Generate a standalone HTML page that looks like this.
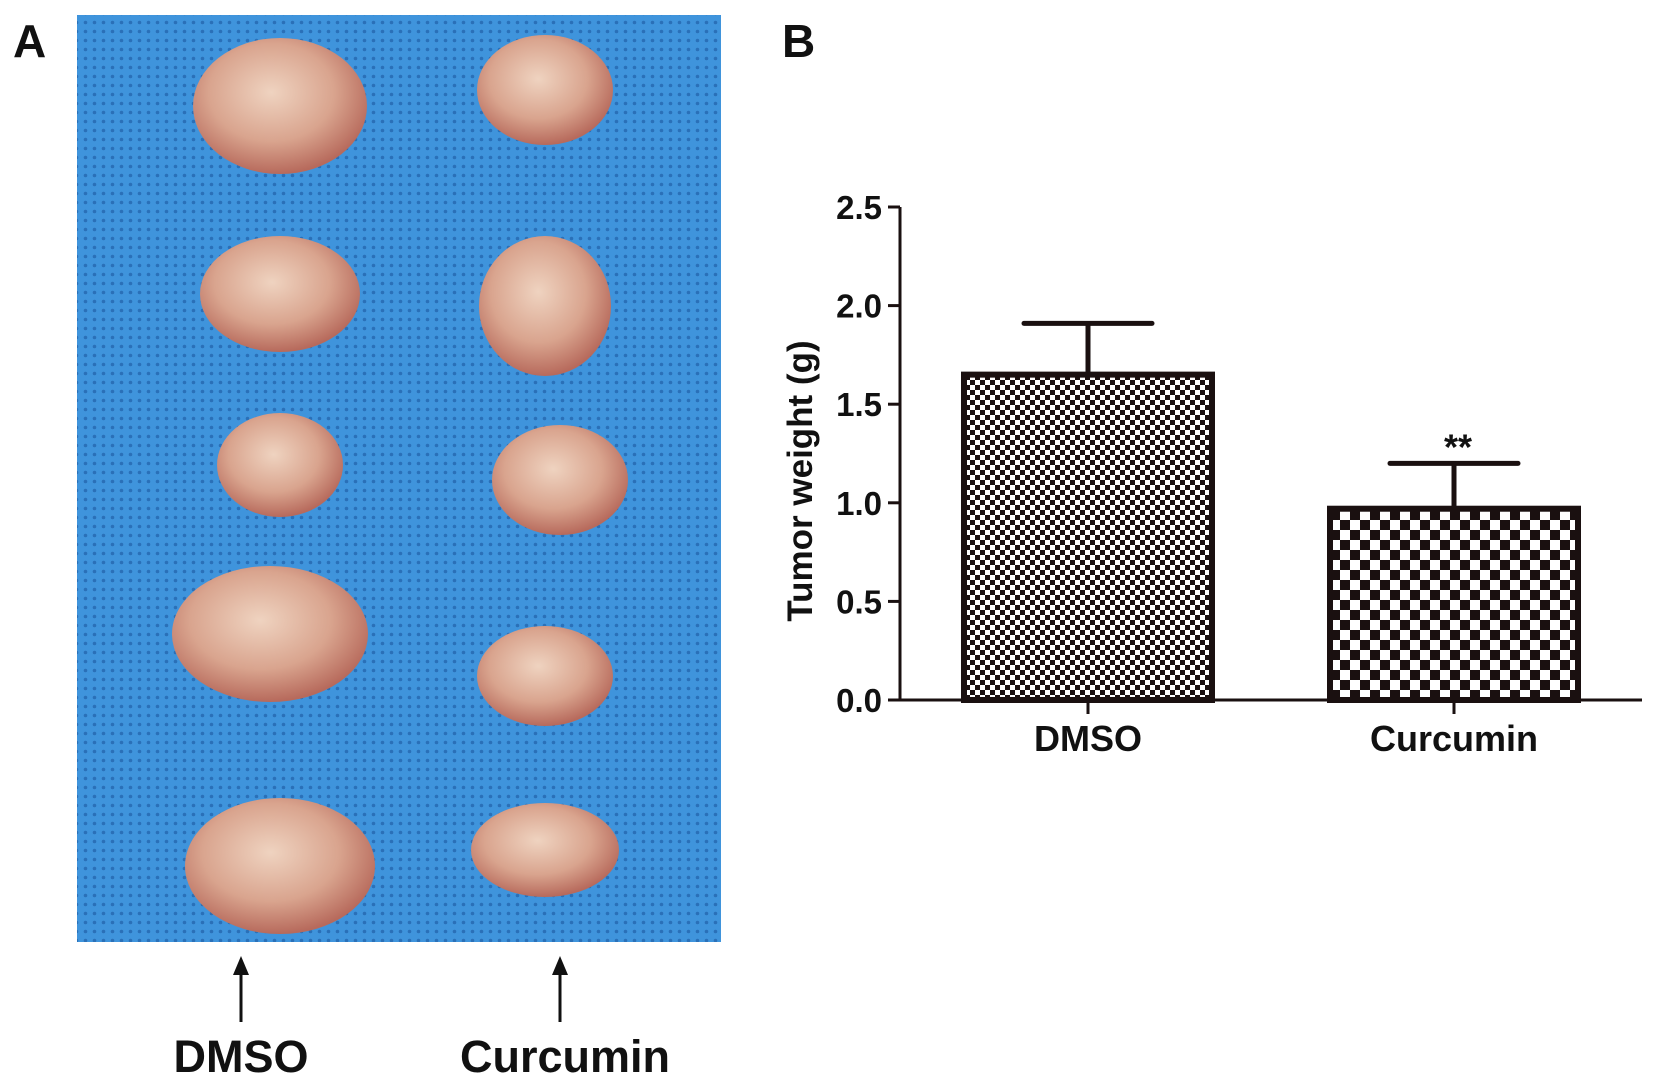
<!DOCTYPE html>
<html><head><meta charset="utf-8"><style>
html,body{margin:0;padding:0;background:#fff;}
body{width:1654px;height:1083px;position:relative;overflow:hidden;font-family:"Liberation Sans",Arial,sans-serif;}
</style></head><body>
<svg width="1654" height="1083" viewBox="0 0 1654 1083" xmlns="http://www.w3.org/2000/svg">
<defs>
<pattern id="fine" width="10" height="10" patternUnits="userSpaceOnUse">
<rect width="10" height="10" fill="#fff"/><rect width="5" height="5" fill="#1a1010"/><rect x="5" y="5" width="5" height="5" fill="#1a1010"/>
</pattern>
<pattern id="coarse" width="20" height="20" patternUnits="userSpaceOnUse">
<rect width="20" height="20" fill="#fff"/><rect width="10" height="10" fill="#1a1010"/><rect x="10" y="10" width="10" height="10" fill="#1a1010"/>
</pattern>
<pattern id="mesh" width="9" height="9" patternUnits="userSpaceOnUse">
<rect width="9" height="9" fill="#3f94dc"/><circle cx="4.5" cy="4.5" r="1.8" fill="#2a70b8"/>
</pattern>
<radialGradient id="tum" cx="45%" cy="40%" r="60%">
<stop offset="0" stop-color="#efd3c0"/><stop offset="0.6" stop-color="#d9a48e"/><stop offset="1" stop-color="#b76a5c"/>
</radialGradient>
</defs>

<!-- Panel A -->
<text x="13" y="57" font-size="46" font-weight="bold" fill="#111">A</text>
<g>
<rect x="77" y="15" width="644" height="927" fill="url(#mesh)"/>
<g id="tumors"></g>
</g>
<g>
<line x1="241" y1="1022" x2="241" y2="972" stroke="#111" stroke-width="3"/>
<polygon points="233,975 249,975 241,956" fill="#111"/>
</g>
<g>
<line x1="560" y1="1022" x2="560" y2="972" stroke="#111" stroke-width="3"/>
<polygon points="552,975 568,975 560,956" fill="#111"/>
</g>
<text x="241" y="1072" font-size="45" font-weight="bold" text-anchor="middle" fill="#111">DMSO</text>
<text x="565" y="1072" font-size="45" font-weight="bold" text-anchor="middle" fill="#111">Curcumin</text>

<!-- Panel B -->
<text x="782" y="57" font-size="46" font-weight="bold" fill="#111">B</text>
<g id="chart"></g>
</svg>
<script>
// photo tumors
const tumorsG = document.getElementById('tumors');
const tumorCx=[280,280,280,270,280,545,545,560,545,545];
const tumorCy=[106,294,465,634,866,90,306,480,676,850];
const tumorRx=[87,80,63,98,95,68,66,68,68,74];
const tumorRy=[68,58,52,68,68,55,70,55,50,47];
for(let i=0;i<tumorCx.length;i++){
  const e=document.createElementNS('http://www.w3.org/2000/svg','ellipse');
  e.setAttribute('cx',tumorCx[i]);e.setAttribute('cy',tumorCy[i]);
  e.setAttribute('rx',tumorRx[i]);e.setAttribute('ry',tumorRy[i]);
  e.setAttribute('fill','url(#tum)');
  
  
  tumorsG.appendChild(e);
}

// chart data
const categories=['DMSO','Curcumin'];
const means=[1.65,0.97];
const errors=[0.26,0.23];
const sigLabels=['','**'];
const yTicks=[0.0,0.5,1.0,1.5,2.0,2.5];
const tickLabels=['0.0','0.5','1.0','1.5','2.0','2.5'];
const fills=['url(#fine)','url(#coarse)'];

const NS='http://www.w3.org/2000/svg';
const g=document.getElementById('chart');
const x0=900,xEnd=1642,yBase=700,yTop=207,yMax=2.5;
const y=v=>yBase-(v/yMax)*(yBase-yTop);
const bandStart=905,bandW=366;
const xc=i=>bandStart+bandW*(i+0.5);
const barW=248,capW=128;
function mk(tag,attrs,parent){const e=document.createElementNS(NS,tag);for(const k in attrs)e.setAttribute(k,attrs[k]);(parent||g).appendChild(e);return e;}

// bars
categories.forEach((c,i)=>{
  const cx=xc(i);
  const eb=mk('g',{});
  
  
  mk('line',{x1:cx,y1:y(means[i]),x2:cx,y2:y(means[i]+errors[i]),stroke:'#1a1010','stroke-width':5},eb);
  mk('line',{x1:cx-capW/2,y1:y(means[i]+errors[i]),x2:cx+capW/2,y2:y(means[i]+errors[i]),stroke:'#1a1010','stroke-width':5,'stroke-linecap':'round'},eb);
  const r=mk('rect',{x:cx-barW/2,y:y(means[i]),width:barW,height:yBase-y(means[i]),fill:fills[i],stroke:'#1a1010','stroke-width':6});
  
  
  const t=mk('text',{x:cx,y:yBase+51,'font-size':36,'font-weight':'bold','text-anchor':'middle',fill:'#111'});
  t.textContent=c;
  
  
  mk('line',{x1:cx,y1:yBase,x2:cx,y2:yBase+14,stroke:'#1a1010','stroke-width':3});
  if(sigLabels[i]){
    const s=mk('text',{x:cx+4,y:y(means[i]+errors[i])-4,'font-size':36,'font-weight':'bold','text-anchor':'middle',fill:'#111'});
    s.textContent=sigLabels[i];
    
    
  }
});

// axes
const ax=mk('line',{x1:x0,y1:y(yMax),x2:x0,y2:yBase,stroke:'#1a1010','stroke-width':3});


const xa=mk('line',{x1:x0-12,y1:yBase,x2:xEnd,y2:yBase,stroke:'#1a1010','stroke-width':3});


yTicks.forEach((v,i)=>{
  mk('line',{x1:x0-12,y1:y(v),x2:x0,y2:y(v),stroke:'#1a1010','stroke-width':3});
  const t=mk('text',{x:x0-18,y:y(v)+12,'font-size':33,'font-weight':'bold','text-anchor':'end',fill:'#111'});
  t.textContent=tickLabels[i];
  
  
});
const yt=mk('text',{x:0,y:0,'font-size':35,'font-weight':'bold','text-anchor':'middle',fill:'#111',transform:'translate(812,481) rotate(-90)'});
yt.textContent='Tumor weight (g)';


</script>
</body></html>
